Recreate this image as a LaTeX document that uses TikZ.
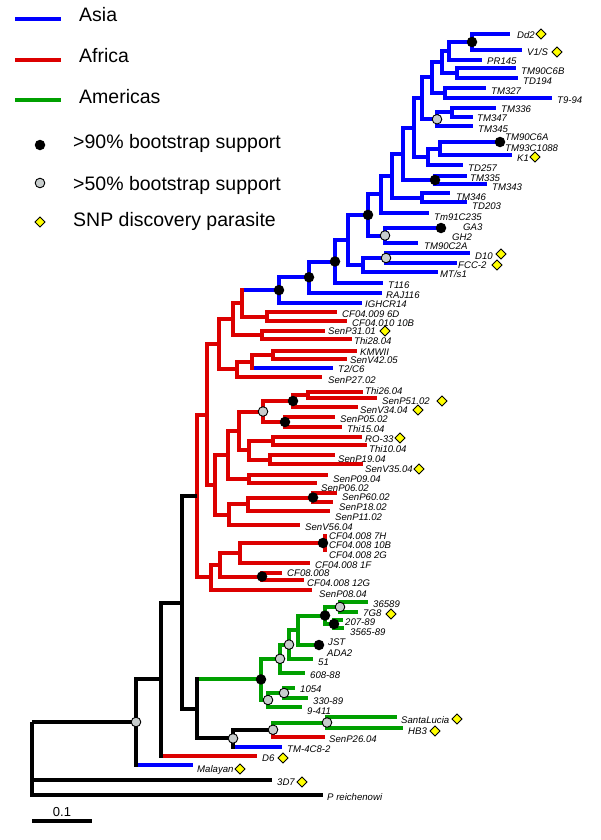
\documentclass[tikz,border=0pt]{standalone}
\usepackage{fontspec}
\setmainfont{Liberation Sans}
\usetikzlibrary{shapes.geometric}
\definecolor{asia}{RGB}{0,0,255}
\definecolor{afr}{RGB}{220,0,0}
\definecolor{amer}{RGB}{0,160,0}
\definecolor{dotgray}{RGB}{200,205,205}
\definecolor{snpyellow}{RGB}{255,255,0}
\newcommand{\tedge}[3]{\draw[br,#1] (#2) |- (#3);}
\newcommand{\tvseg}[4]{\draw[br,#1,line cap=rect] (#2 |- #3) -- (#2 |- #4);}
\newcommand{\tlab}[4]{\node[leaflab] (#1) at (#2,#3) {#4};}
\newcommand{\tsnp}[3]{\node[snp] (#1) at (#2,#3) {};}
\begin{document}
\begin{tikzpicture}[x=1pt,y=-1pt,
  br/.style={line width=4pt},
  leaflab/.style={anchor=west,inner sep=0pt,text height=6.9pt,text depth=0pt,font=\fontsize{9.6}{11}\selectfont\itshape},
  leglab/.style={anchor=west,inner sep=0pt,text height=14pt,text depth=0pt,font=\fontsize{19.5}{23}\selectfont},
  bdot/.style={circle,fill=black,minimum size=10.5pt,inner sep=0pt},
  gdot/.style={circle,fill=dotgray,draw=black,line width=0.9pt,minimum size=9.6pt,inner sep=0pt},
  snp/.style={diamond,fill=snpyellow,draw=black,line width=0.9pt,minimum width=10.5pt,minimum height=10.5pt,inner sep=0pt}]
\useasboundingbox (0,0) rectangle (600,840);
\fill[white] (0,0) rectangle (600,840);

% ---------------- legend ----------------
\coordinate (lgA1) at (15,19); \coordinate (lgA2) at (61,19);
\coordinate (lgF1) at (15,60); \coordinate (lgF2) at (61,60);
\coordinate (lgM1) at (15,100); \coordinate (lgM2) at (61,100);
\draw[br,asia] (lgA1) -- (lgA2);
\draw[br,afr] (lgF1) -- (lgF2);
\draw[br,amer] (lgM1) -- (lgM2);
\node[leglab] (lgAt) at (79,14.7) {Asia};
\node[leglab] (lgFt) at (79,55.7) {Africa};
\node[leglab] (lgMt) at (79,96.3) {Americas};
\node[bdot] (lgB) at (40,145) {};
\node[gdot] (lgG) at (40,183) {};
\node[snp] (lgS) at (40,222) {};
\node[leglab] (lgBt) at (73,141.3) {>90\% bootstrap support};
\node[leglab] (lgGt) at (73,183) {>50\% bootstrap support};
\node[leglab] (lgSt) at (73,219.7) {SNP discovery parasite};

% ---------------- coordinates: Asia ----------------
\coordinate (Dd2) at (510,34);
\coordinate (V1S) at (522,50);
\coordinate (PR145) at (482,60);
\coordinate (TM90C6B) at (516,68);
\coordinate (TD194) at (518,78);
\coordinate (TM327) at (486,88);
\coordinate (T994) at (552,98);
\coordinate (TM336) at (496,108);
\coordinate (TM347) at (473,117);
\coordinate (TM345) at (473,126);
\coordinate (n10) at (500,142);
\coordinate (K1) at (512,155);
\coordinate (TD257) at (463,165);
\coordinate (TM335) at (467,176);
\coordinate (TM343) at (487,184);
\coordinate (TM346) at (450,193);
\coordinate (TD203) at (467,202);
\coordinate (Tm91) at (429,213);
\coordinate (n19) at (441,228);
\coordinate (TM90C2A) at (418,243);
\coordinate (D10) at (470,253);
\coordinate (FCC2) at (457,263);
\coordinate (MTs1) at (438,272);
\coordinate (T116) at (383,283);
\coordinate (RAJ116) at (382,293);
\coordinate (IGHCR14) at (362,303);
\coordinate (n1) at (472,42);
\coordinate (n2) at (449,51);
\coordinate (n3) at (457,73);
\coordinate (n4) at (442,62);
\coordinate (n5) at (445,93);
\coordinate (n6) at (432,77.5);
\coordinate (n7) at (452,112.5);
\coordinate (n8) at (437,119.25);
\coordinate (n9) at (422,98.4);
\coordinate (n11) at (440,148.5);
\coordinate (n12) at (428,156.75);
\coordinate (n13) at (414,127.6);
\coordinate (n14) at (435,180);
\coordinate (n15) at (403,153.8);
\coordinate (n16) at (422,197.5);
\coordinate (n17) at (392,175.6);
\coordinate (n18) at (381,194.3);
\coordinate (n20) at (385,235.5);
\coordinate (n21) at (368,214.9);
\coordinate (n22) at (386,258);
\coordinate (n24) at (363,265);
\coordinate (n26) at (348,240);
\coordinate (n25) at (335,261.5);
\coordinate (n27) at (309,277.25);
\coordinate (n28) at (279,290.1);

% ---------------- coordinates: Africa ----------------
\coordinate (CF6D) at (337,312);
\coordinate (CF10B) at (347,321);
\coordinate (n30) at (267,316.5);
\coordinate (n29) at (242,303.3);
\coordinate (SenP31) at (325,331);
\coordinate (Thi28) at (352,339);
\coordinate (n31) at (262,335);
\coordinate (n32) at (233,319.2);
\coordinate (KMWII) at (357,351);
\coordinate (SenV42) at (347,359);
\coordinate (n33) at (273,355);
\coordinate (T2C6) at (333,368);
\coordinate (n34) at (252,361.5);
\coordinate (SenP27) at (322,377);
\coordinate (n35) at (237,369.25);
\coordinate (n36) at (219,344.2);
\coordinate (Thi26) at (363,392);
\coordinate (SenP51) at (377,398);
\coordinate (n39) at (308,395);
\coordinate (SenV34) at (358,407);
\coordinate (n40) at (293,401);
\coordinate (SenP05) at (335,417);
\coordinate (Thi15) at (342,427);
\coordinate (n41) at (285,422);
\coordinate (n42) at (263,411.5);
\coordinate (RO33) at (362,437);
\coordinate (Thi10) at (367,445);
\coordinate (n43) at (273,441);
\coordinate (SenP19) at (335,455);
\coordinate (SenV35) at (363,464);
\coordinate (n44) at (270,459.5);
\coordinate (n45) at (249,450.25);
\coordinate (n46) at (239,430.9);
\coordinate (SenP09) at (328,475);
\coordinate (SenP06) at (317,483);
\coordinate (n47) at (249,479);
\coordinate (n48) at (228,455);
\coordinate (SenP60) at (337,493);
\coordinate (SenP18) at (333,502);
\coordinate (n49) at (313,497.5);
\coordinate (SenP11) at (330,511);
\coordinate (n50) at (248,504.25);
\coordinate (SenV56) at (300,525);
\coordinate (n51) at (229,514.6);
\coordinate (n52) at (215,484.8);
\coordinate (n37) at (207,414.5);
\coordinate (n53) at (323,543);
\coordinate (n53a) at (325,534);
\coordinate (n53b) at (325,552);
\coordinate (CF1F) at (310,563);
\coordinate (n54) at (240,553);
\coordinate (CF08) at (282,573);
\coordinate (CF12G) at (304,580);
\coordinate (n55) at (262,576.5);
\coordinate (n56) at (220,564.75);
\coordinate (SenP08) at (312,590);
\coordinate (n57) at (211,577.4);
\coordinate (n38) at (197,496);

% ---------------- coordinates: Americas and base ----------------
\coordinate (L36589) at (368,602);
\coordinate (L7G8) at (358,612);
\coordinate (n68) at (340,607);
\coordinate (L20789) at (343,620);
\coordinate (L356589) at (344,628);
\coordinate (n69) at (334,624);
\coordinate (n67) at (325,615.5);
\coordinate (nJST) at (319,645);
\coordinate (n66) at (298,630.25);
\coordinate (L51) at (313,659);
\coordinate (n64) at (289,644.6);
\coordinate (L60888) at (305,673);
\coordinate (n63) at (280,658.8);
\coordinate (L1054) at (295,688);
\coordinate (L33089) at (308,698);
\coordinate (n71) at (284,693);
\coordinate (L9411) at (302,707);
\coordinate (n70) at (268,700);
\coordinate (n62) at (261,679.4);
\coordinate (SantaLucia) at (397,717);
\coordinate (HB3) at (403,728);
\coordinate (n74) at (327,722.5);
\coordinate (SenP26) at (325,737);
\coordinate (n73) at (273,729.75);
\coordinate (TM4C82) at (282,747);
\coordinate (n72) at (233,738.4);
\coordinate (n61) at (197,708.9);
\coordinate (n60) at (182,602.5);
\coordinate (D6) at (257,756);
\coordinate (n58) at (161,679.2);
\coordinate (Malayan) at (193,765);
\coordinate (n59) at (136,722);
\coordinate (P3D7) at (272,780);
\coordinate (Preich) at (323,795);
\coordinate (root) at (32,722);

% ---------------- edges: Asia ----------------
\tedge{asia}{n1}{Dd2} \tedge{asia}{n1}{V1S}
\tedge{asia}{n2}{n1} \tedge{asia}{n2}{PR145}
\tedge{asia}{n3}{TM90C6B} \tedge{asia}{n3}{TD194}
\tedge{asia}{n4}{n2} \tedge{asia}{n4}{n3}
\tedge{asia}{n5}{TM327} \tedge{asia}{n5}{T994}
\tedge{asia}{n6}{n4} \tedge{asia}{n6}{n5}
\tedge{asia}{n7}{TM336} \tedge{asia}{n7}{TM347}
\tedge{asia}{n8}{n7} \tedge{asia}{n8}{TM345}
\tedge{asia}{n9}{n6} \tedge{asia}{n9}{n8}
\tedge{asia}{n11}{n10} \tedge{asia}{n11}{K1}
\tedge{asia}{n12}{n11} \tedge{asia}{n12}{TD257}
\tedge{asia}{n13}{n9} \tedge{asia}{n13}{n12}
\tedge{asia}{n14}{TM335} \tedge{asia}{n14}{TM343}
\tedge{asia}{n15}{n13} \tedge{asia}{n15}{n14}
\tedge{asia}{n16}{TM346} \tedge{asia}{n16}{TD203}
\tedge{asia}{n17}{n15} \tedge{asia}{n17}{n16}
\tedge{asia}{n18}{n17} \tedge{asia}{n18}{Tm91}
\tedge{asia}{n20}{n19} \tedge{asia}{n20}{TM90C2A}
\tedge{asia}{n21}{n18} \tedge{asia}{n21}{n20}
\tedge{asia}{n22}{D10} \tedge{asia}{n22}{FCC2}
\tedge{asia}{n24}{n22} \tedge{asia}{n24}{MTs1}
\tedge{asia}{n26}{n21} \tedge{asia}{n26}{n24}
\tedge{asia}{n25}{n26} \tedge{asia}{n25}{T116}
\tedge{asia}{n27}{n25} \tedge{asia}{n27}{RAJ116}
\tedge{asia}{n28}{n27} \tedge{asia}{n28}{IGHCR14}

% ---------------- edges: Africa ----------------
\tedge{afr}{n30}{CF6D} \tedge{afr}{n30}{CF10B}
\tedge{asia}{n29}{n28} \tedge{afr}{n29}{n30}
\tedge{afr}{n31}{SenP31} \tedge{afr}{n31}{Thi28}
\tedge{afr}{n32}{n29} \tedge{afr}{n32}{n31}
\tedge{afr}{n33}{KMWII} \tedge{afr}{n33}{SenV42}
\tedge{afr}{n34}{n33} \tedge{asia}{n34}{T2C6}
\tedge{afr}{n35}{n34} \tedge{afr}{n35}{SenP27}
\tedge{afr}{n36}{n32} \tedge{afr}{n36}{n35}
\tedge{afr}{n39}{Thi26} \tedge{afr}{n39}{SenP51}
\tedge{afr}{n40}{n39} \tedge{afr}{n40}{SenV34}
\tedge{afr}{n41}{SenP05} \tedge{afr}{n41}{Thi15}
\tedge{afr}{n42}{n40} \tedge{afr}{n42}{n41}
\tedge{afr}{n43}{RO33} \tedge{afr}{n43}{Thi10}
\tedge{afr}{n44}{SenP19} \tedge{afr}{n44}{SenV35}
\tedge{afr}{n45}{n43} \tedge{afr}{n45}{n44}
\tedge{afr}{n46}{n42} \tedge{afr}{n46}{n45}
\tedge{afr}{n47}{SenP09} \tedge{afr}{n47}{SenP06}
\tedge{afr}{n48}{n46} \tedge{afr}{n48}{n47}
\tedge{afr}{n49}{SenP60} \tedge{afr}{n49}{SenP18}
\tedge{afr}{n50}{n49} \tedge{afr}{n50}{SenP11}
\tedge{afr}{n51}{n50} \tedge{afr}{n51}{SenV56}
\tedge{afr}{n52}{n48} \tedge{afr}{n52}{n51}
\tedge{afr}{n37}{n36} \tedge{afr}{n37}{n52}
\draw[br,afr] (n53a) -- (n53b);
\tedge{afr}{n54}{n53} \tedge{afr}{n54}{CF1F}
\tedge{afr}{n55}{CF08} \tedge{afr}{n55}{CF12G}
\tedge{afr}{n56}{n54} \tedge{afr}{n56}{n55}
\tedge{afr}{n57}{n56} \tedge{afr}{n57}{SenP08}
\tedge{afr}{n38}{n37} \tedge{afr}{n38}{n57}

% ---------------- edges: Americas and base ----------------
\tedge{amer}{n68}{L36589} \tedge{amer}{n68}{L7G8}
\tedge{amer}{n69}{L20789} \tedge{amer}{n69}{L356589}
\tedge{amer}{n67}{n68} \tedge{amer}{n67}{n69}
\tedge{amer}{n66}{n67} \tedge{amer}{n66}{nJST}
\tedge{amer}{n64}{n66} \tedge{amer}{n64}{L51}
\tedge{amer}{n63}{n64} \tedge{amer}{n63}{L60888}
\tedge{amer}{n71}{L1054} \tedge{amer}{n71}{L33089}
\tedge{amer}{n70}{n71} \tedge{amer}{n70}{L9411}
\tedge{amer}{n62}{n63} \tedge{amer}{n62}{n70}
\tedge{amer}{n74}{SantaLucia} \tedge{amer}{n74}{HB3}
\tedge{amer}{n73}{n74} \tedge{afr}{n73}{SenP26}
\tedge{black}{n72}{n73} \tedge{asia}{n72}{TM4C82}
\tedge{amer}{n61}{n62} \tedge{black}{n61}{n72}
\tedge{black}{n60}{n38} \tedge{black}{n60}{n61}
\tedge{black}{n58}{n60} \tedge{afr}{n58}{D6}
\tedge{black}{n59}{n58} \tedge{asia}{n59}{Malayan}
\tedge{black}{root}{n59} \tedge{black}{root}{P3D7} \tedge{black}{root}{Preich}

% verticals in the parent's colour where a child differs
\tvseg{afr}{n29}{n28}{n30}
\tvseg{afr}{n34}{n33}{T2C6}
\tvseg{black}{n72}{n73}{TM4C82}
\tvseg{black}{n61}{n62}{n72}
\tvseg{black}{n58}{n60}{D6}
\tvseg{black}{n59}{n58}{Malayan}

% ---------------- support dots ----------------
\foreach \nd in {n1,n10,n14,n19,n21,n25,n27,n28,n40,n41,n49,n53,n55,n67,n69,nJST,n62}
  \node[bdot] (d\nd) at (\nd) {};
\foreach \nd in {n8,n20,n22,n42,n68,n64,n63,n71,n70,n74,n73,n72,n59}
  \node[gdot] (d\nd) at (\nd) {};

% ---------------- labels: Asia ----------------
\tlab{tDd2}{517}{35}{Dd2}
\tlab{tV1S}{527}{52}{V1/S}
\tlab{tPR145}{487}{61}{PR145}
\tlab{tTM90C6B}{521}{71}{TM90C6B}
\tlab{tTD194}{523}{81}{TD194}
\tlab{tTM327}{491}{91}{TM327}
\tlab{tT994}{557}{100}{T9-94}
\tlab{tTM336}{501}{109}{TM336}
\tlab{tTM347}{477}{118}{TM347}
\tlab{tTM345}{478}{129}{TM345}
\tlab{tTM90C6A}{505}{137}{TM90C6A}
\tlab{tTM93}{505}{148}{TM93C1088}
\tlab{tK1}{517}{158}{K1}
\tlab{tTD257}{468}{168}{TD257}
\tlab{tTM335}{470}{178}{TM335}
\tlab{tTM343}{492}{187}{TM343}
\tlab{tTM346}{456}{197}{TM346}
\tlab{tTD203}{472}{206}{TD203}
\tlab{tTm91}{434}{217}{Tm91C235}
\tlab{tGA3}{463}{227}{GA3}
\tlab{tGH2}{452}{237}{GH2}
\tlab{tTM90C2A}{424}{246}{TM90C2A}
\tlab{tD10}{475}{256}{D10}
\tlab{tFCC2}{458}{265}{FCC-2}
\tlab{tMTs1}{440}{274}{MT/s1}
\tlab{tT116}{388}{285}{T116}
\tlab{tRAJ116}{386}{295}{RAJ116}
\tlab{tIGHCR14}{365}{304.5}{IGHCR14}
% ---------------- labels: Africa ----------------
\tlab{tCF6D}{342}{314}{CF04.009 6D}
\tlab{tCF10B}{352}{323}{CF04.010 10B}
\tlab{tSenP31}{328}{331}{SenP31.01}
\tlab{tThi28}{354}{341}{Thi28.04}
\tlab{tKMWII}{360}{352}{KMWII}
\tlab{tSenV42}{350}{360.5}{SenV42.05}
\tlab{tT2C6}{338}{369.5}{T2/C6}
\tlab{tSenP27}{328}{380}{SenP27.02}
\tlab{tThi26}{365}{391}{Thi26.04}
\tlab{tSenP51}{382}{401}{SenP51.02}
\tlab{tSenV34}{360}{410}{SenV34.04}
\tlab{tSenP05}{340}{419}{SenP05.02}
\tlab{tThi15}{347}{429}{Thi15.04}
\tlab{tRO33}{365}{439}{RO-33}
\tlab{tThi10}{369}{449}{Thi10.04}
\tlab{tSenP19}{338}{459}{SenP19.04}
\tlab{tSenV35}{365}{469}{SenV35.04}
\tlab{tSenP09}{333}{479}{SenP09.04}
\tlab{tSenP06}{321}{488}{SenP06.02}
\tlab{tSenP60}{342}{497}{SenP60.02}
\tlab{tSenP18}{339}{507}{SenP18.02}
\tlab{tSenP11}{335}{517}{SenP11.02}
\tlab{tSenV56}{305}{527}{SenV56.04}
\tlab{t7H}{329}{536}{CF04.008 7H}
\tlab{t10B}{329}{545}{CF04.008 10B}
\tlab{t2G}{329}{555}{CF04.008 2G}
\tlab{t1F}{315}{565}{CF04.008 1F}
\tlab{tCF08}{287}{573}{CF08.008}
\tlab{t12G}{307}{583}{CF04.008 12G}
\tlab{tSenP08}{319}{594}{SenP08.04}
% ---------------- labels: Americas and base ----------------
\tlab{t36589}{373}{604}{36589}
\tlab{t7G8}{363}{613}{7G8}
\tlab{t20789}{345}{622}{207-89}
\tlab{t356589}{350}{632}{3565-89}
\tlab{tJST}{328}{642}{JST}
\tlab{tADA2}{327}{653}{ADA2}
\tlab{t51}{318}{662}{51}
\tlab{t60888}{310}{675}{608-88}
\tlab{t1054}{300}{689}{1054}
\tlab{t33089}{313}{701}{330-89}
\tlab{t9411}{307}{711}{9-411}
\tlab{tSantaLucia}{401}{720}{SantaLucia}
\tlab{tHB3}{408}{731}{HB3}
\tlab{tSenP26}{329}{739}{SenP26.04}
\tlab{tTM4C82}{287}{749}{TM-4C8-2}
\tlab{tD6}{262}{758}{D6}
\tlab{tMalayan}{197}{769}{Malayan}
\tlab{t3D7}{277}{782}{3D7}
\tlab{tPreich}{327}{797}{P reichenowi}

% ---------------- SNP diamonds ----------------
\tsnp{sDd2}{541}{34}
\tsnp{sV1S}{557}{52}
\tsnp{sK1}{535}{157}
\tsnp{sD10}{501}{254}
\tsnp{sFCC2}{497}{265}
\tsnp{sSenP31}{385}{331}
\tsnp{sSenP51}{442}{401}
\tsnp{sSenV34}{418}{410}
\tsnp{sRO33}{400}{438}
\tsnp{sSenV35}{419}{469}
\tsnp{s7G8}{391}{614}
\tsnp{sSantaLucia}{457}{719}
\tsnp{sHB3}{435}{731}
\tsnp{sD6}{283}{758}
\tsnp{sMalayan}{240}{769}
\tsnp{s3D7}{302}{782}

% ---------------- scale bar ----------------
\coordinate (sb1) at (32,821);
\coordinate (sb2) at (92,821);
\draw[br] (sb1) -- (sb2);
\node[inner sep=0pt,font=\fontsize{13}{15}\selectfont] (sbt) at (62,812.5) {0.1};
\end{tikzpicture}
\end{document}
